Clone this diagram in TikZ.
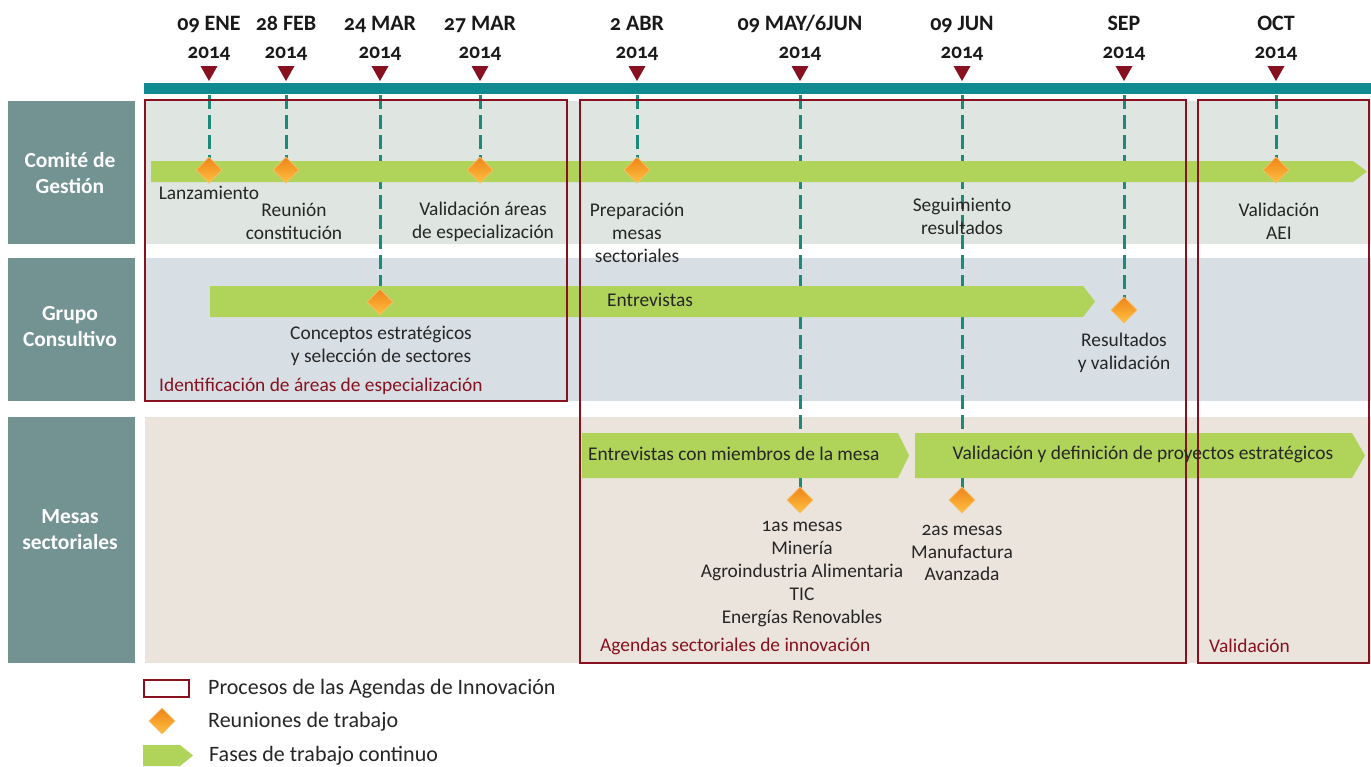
\documentclass[tikz,border=0pt]{standalone}
\usepackage{fontspec}
\setmainfont{Carlito}[Numbers=OldStyle]
\usetikzlibrary{shapes.geometric}
\definecolor{tealbar}{HTML}{0E8A90}
\definecolor{lblbox}{HTML}{739393}
\definecolor{procred}{HTML}{87111F}
\definecolor{phasegreen}{HTML}{B0D35A}
\definecolor{rowone}{HTML}{DFE5E1}
\definecolor{rowtwo}{HTML}{D7DEE4}
\definecolor{rowthree}{HTML}{EBE4DC}
\definecolor{dashteal}{HTML}{1A8A7A}
\definecolor{dtop}{HTML}{EE8418}
\definecolor{dbot}{HTML}{FFC040}
\definecolor{dedge}{HTML}{F6C070}
\begin{document}
\begin{tikzpicture}[x=1pt,y=-1pt,
  txt/.style={font=\fontsize{19.4}{22.8}\selectfont, align=center, inner sep=0pt, text=black!85},
  legtxt/.style={font=\fontsize{22}{26}\selectfont, inner sep=0pt, text=black!85, anchor=west},
  redtxt/.style={font=\fontsize{19.4}{22.8}\selectfont, inner sep=0pt, text=procred, anchor=west},
  datelbl/.style={font=\bfseries\fontsize{22}{28}\selectfont, align=center, inner sep=0pt, text=black!90},
  rowlbl/.style={font=\bfseries\fontsize{21.5}{26}\selectfont, align=center, inner sep=0pt, text=white},
  procbox/.style={draw=procred, line width=2.4pt},
  meet/.style={diamond, inner sep=0pt, minimum width=26pt, minimum height=26pt, top color=dtop, bottom color=dbot, draw=dedge, line width=0.6pt},
  dashline/.style={draw=dashteal, line width=3pt, dash pattern=on 14pt off 6pt},
  phase/.style={fill=phasegreen},
  marker/.style={fill=procred}
]
\useasboundingbox (0,0) rectangle (1371,766);
\fill[white] (0,0) rectangle (1371,766);

% row backgrounds
\fill[rowone] (145,101) rectangle (1371,244);
\fill[rowtwo] (145,258) rectangle (1371,401);
\fill[rowthree] (145,417) rectangle (1371,663);

% row label boxes
\fill[lblbox] (8,101) rectangle (135,244);
\fill[lblbox] (8,258) rectangle (135,401);
\fill[lblbox] (8,417) rectangle (135,663);
\node[rowlbl] (lcg) at (70,173) {Comité de\\Gestión};
\node[rowlbl] (lgc) at (70,327) {Grupo\\Consultivo};
\node[rowlbl] (lms) at (70,530) {Mesas\\sectoriales};

% timeline bar
\fill[tealbar] (144,83) rectangle (1371,94);

% dates and markers
\foreach \n/\x/\t in {1/209/{09 ENE}, 2/286/{28 FEB}, 3/380/{24 MAR}, 4/480/{27 MAR}, 5/637/{2 ABR}, 6/800/{09 MAY/6JUN}, 7/962/{09 JUN}, 8/1124/{SEP}, 9/1276/{OCT}}{
  \node[datelbl] (t\n) at (\x,38) {\t\\{\fontsize{21}{28}\selectfont 2014}};
  \fill[marker] (\x-8.5,66) -- (\x+8.5,66) -- (\x,81) -- cycle;
  \coordinate (b\n) at (\x,95);
}

% diamonds
\node[meet] (d1) at (209,170) {};
\node[meet] (d2) at (286,170) {};
\node[meet] (d3) at (380,302) {};
\node[meet] (d4) at (480,170) {};
\node[meet] (d5) at (637,170) {};
\node[meet] (d6) at (800,500) {};
\node[meet] (d7) at (962,500) {};
\node[meet] (d8) at (1124,310) {};
\node[meet] (d9) at (1276,170) {};

% dashed connectors (behind phases)
\foreach \n in {1,...,9}{
  \draw[dashline] (b\n) -- (d\n.center);
}

% phases
\fill[phase] (151,161) -- (1353,161) -- (1367,171.5) -- (1353,182) -- (151,182) -- cycle;
\fill[phase] (210,286) -- (1083,286) -- (1095,301.5) -- (1083,317) -- (210,317) -- cycle;
\fill[phase] (582,433) -- (898,433) -- (909,455.5) -- (898,478) -- (582,478) -- cycle;
\fill[phase] (915,433) -- (1352,433) -- (1365,455.5) -- (1352,478) -- (915,478) -- cycle;

% diamonds on top
\foreach \n/\x/\y in {1/209/170, 2/286/170, 3/380/302, 4/480/170, 5/637/170, 6/800/500, 7/962/500, 8/1124/310, 9/1276/170}{
  \node[meet] at (\x,\y) {};
}

% process boxes
\draw[procbox] (145,100) rectangle (567,401);
\draw[procbox] (580,100) rectangle (1186,663);
\draw[procbox] (1198,100) rectangle (1369,663);
\node[redtxt] (p1) at (159,386) {Identificación de áreas de especialización};
\node[redtxt] (p2) at (600,646) {Agendas sectoriales de innovación};
\node[redtxt] (p3) at (1209,646) {Validación};

% labels row 1
\node[txt] (l1) at (209,193) {Lanzamiento};
\node[txt] (l2) at (294,221.5) {Reunión\\constitución};
\node[txt] (l4) at (483,221.5) {Validación áreas\\de especialización};
\node[txt] (l5) at (637,233) {Preparación\\mesas\\sectoriales};
\node[txt] (l7) at (962,216) {Seguimiento\\resultados};
\node[txt] (l9) at (1279,221) {Validación\\AEI};

% labels row 2
\node[txt] (e1) at (650,300) {Entrevistas};
\node[txt] (l3) at (381,346) {Conceptos estratégicos\\y selección de sectores};
\node[txt] (l8) at (1124,352.5) {Resultados\\y validación};

% labels row 3
\node[txt, anchor=west] (e2) at (588,454) {Entrevistas con miembros de la mesa};
\node[txt] (e3) at (1143,454) {Validación y definición de proyectos estratégicos};
\node[txt] (l6) at (802,574) {1as mesas\\Minería\\Agroindustria Alimentaria\\TIC\\Energías Renovables};
\node[txt] (l7b) at (962,553) {2as mesas\\Manufactura\\Avanzada};

% legend
\draw[procbox] (144,680) rectangle (189,697);
\node[meet] (lgd) at (162,721) {};
\fill[phase] (143,745) -- (180,745) -- (193,755.5) -- (180,766) -- (143,766) -- cycle;
\node[legtxt] (lg1) at (208,689) {Procesos de las Agendas de Innovación};
\node[legtxt] (lg2) at (208,722) {Reuniones de trabajo};
\node[legtxt] (lg3) at (209,756) {Fases de trabajo continuo};
\end{tikzpicture}
\end{document}
